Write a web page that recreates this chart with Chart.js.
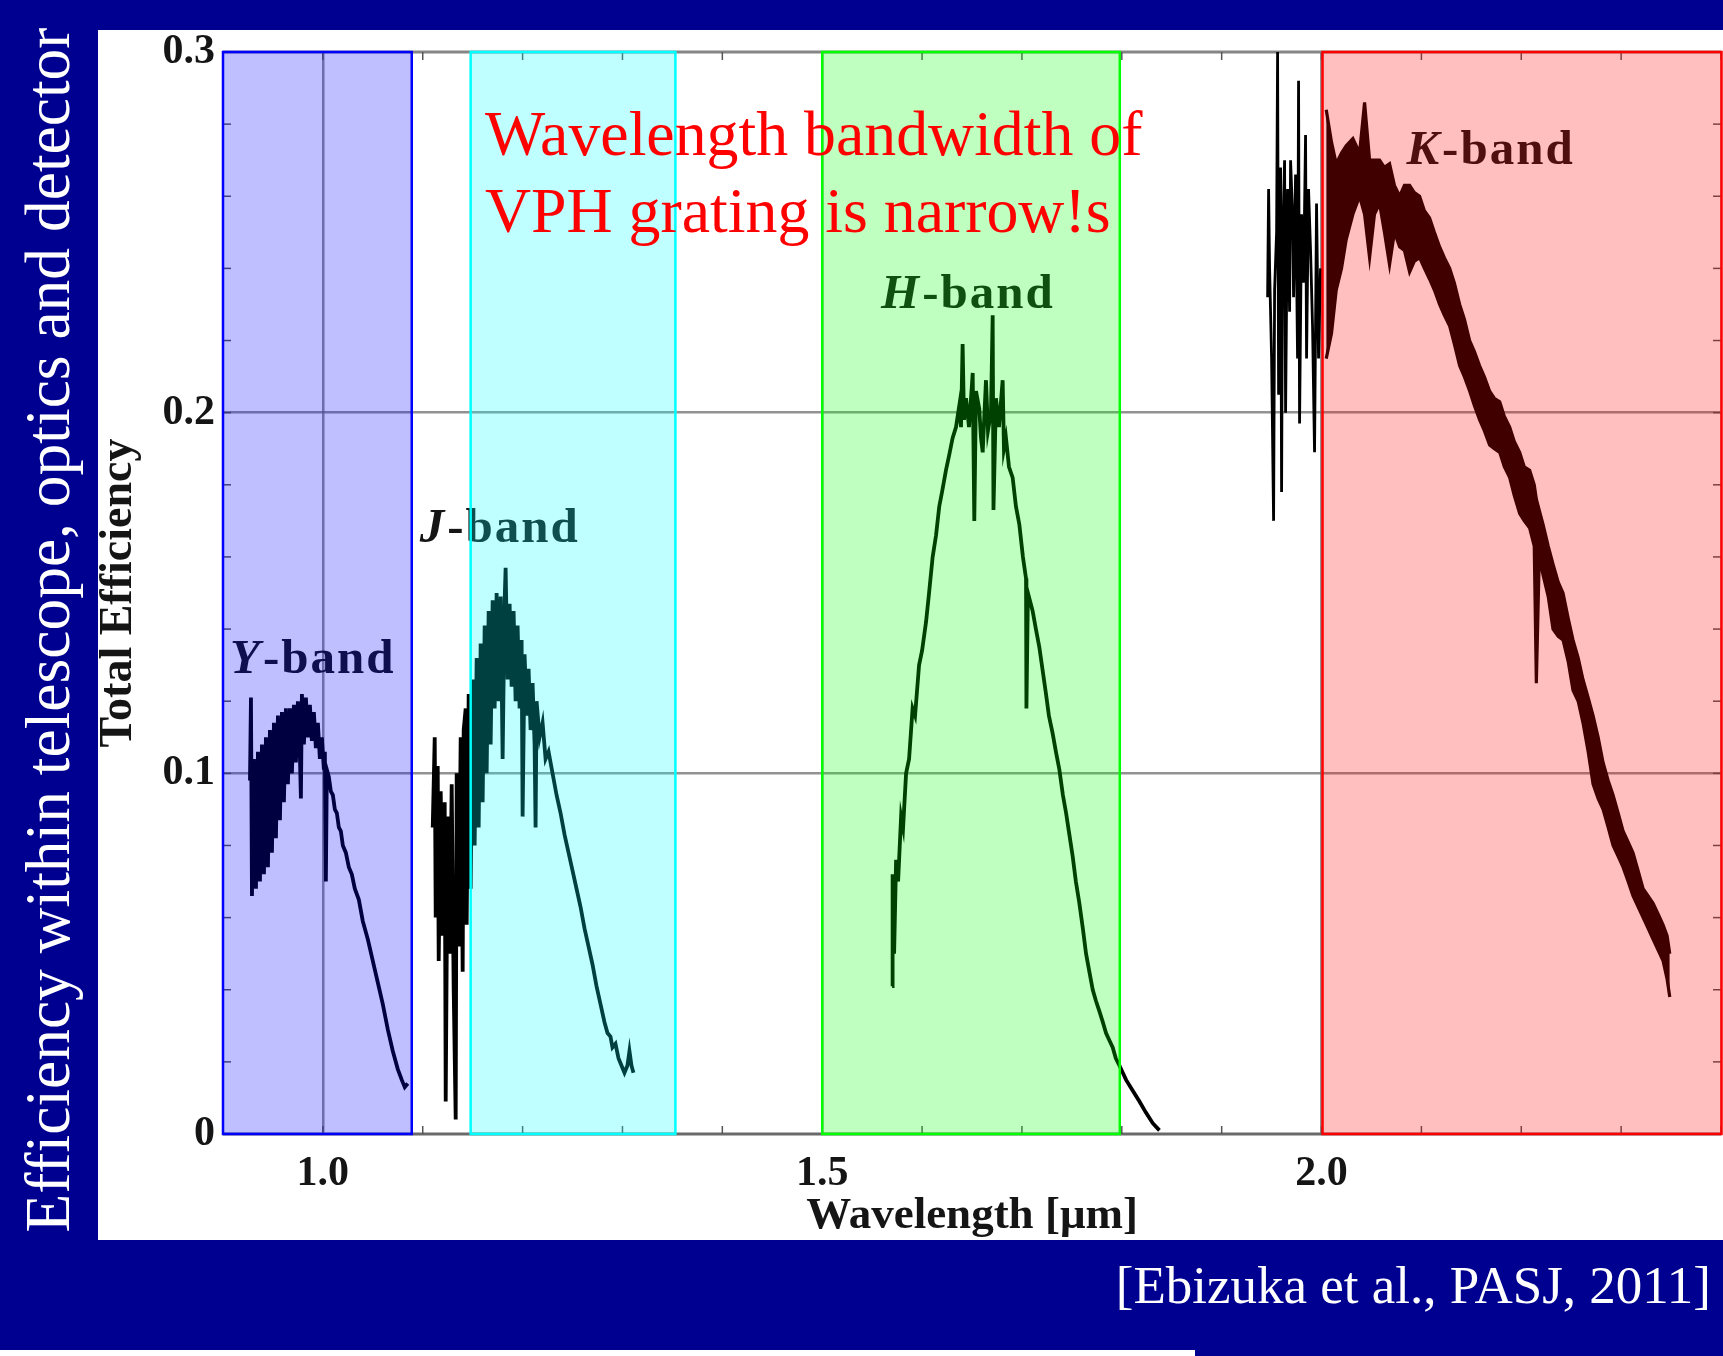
<!DOCTYPE html>
<html>
<head>
<meta charset="utf-8">
<script src="https://cdn.jsdelivr.net/npm/chart.js@4.4.1/dist/chart.umd.min.js"></script>
<style>
html,body{margin:0;padding:0;}
body{width:1723px;height:1356px;background:#000090;position:relative;overflow:hidden;font-family:'Liberation Serif','Times New Roman',serif;}
#panel{position:absolute;left:98px;top:30px;width:1625px;height:1210px;background:#fff;}
#chart{position:absolute;left:98px;top:30px;width:1625px;height:1210px;}
#slideY{position:absolute;left:48px;top:630px;transform:translate(-50%,-50%) rotate(-90deg);color:#fff;font-size:63.5px;line-height:1;white-space:nowrap;}
#note{position:absolute;left:485px;top:95px;color:#ff0000;font-size:63.8px;line-height:77px;white-space:nowrap;z-index:5;}
#cite{position:absolute;right:12px;top:1259px;color:#fff;font-size:53px;line-height:53px;white-space:nowrap;}
#strip{position:absolute;left:0;top:1350px;width:1195px;height:6px;background:#fff;}
</style>
</head>
<body>
<div id="panel"></div>
<canvas id="chart" width="1625" height="1210"></canvas>
<div id="slideY">Efficiency within telescope, optics and detector</div>
<div id="note">Wavelength bandwidth of<br>VPH grating is narrow!s</div>
<div id="cite">[Ebizuka et al., PASJ, 2011]</div>
<div id="strip"></div>
<script>
// ---------- DATA ----------
const xTickValues = [1.0, 1.5, 2.0];
const xTickLabels = ['1.0', '1.5', '2.0'];
const yTickValues = [0, 0.1, 0.2, 0.3];
const yTickLabels = ['0', '0.1', '0.2', '0.3'];

const bandNames = ['Y', 'J', 'H', 'K'];
const bandStart = [0.900, 1.148, 1.500, 2.001];
const bandEnd   = [1.089, 1.353, 1.798, 2.401];

// Y-band spectrum (wavelength um, total efficiency)
const yBandX = [
 0.927,0.928,0.929,0.931,0.933,0.935,0.937,0.939,0.941,0.943,
 0.945,0.947,0.949,0.951,0.953,0.955,0.957,0.959,0.961,0.963,
 0.965,0.967,0.969,0.971,0.973,0.975,0.977,0.978,0.979,0.981,
 0.983,0.985,0.987,0.989,0.991,0.993,0.995,0.997,0.999,1.001,
 1.002,1.003,1.004,1.006,1.008,1.010,1.012,1.014,1.016,1.018,
 1.020,1.023,1.026,1.029,1.032,1.036,1.040,1.045,1.050,1.055,
 1.060,1.065,1.070,1.075,1.079,1.082,1.085];
const yBandY = [
 0.098,0.121,0.066,0.104,0.068,0.106,0.070,0.108,0.072,0.110,
 0.074,0.112,0.078,0.114,0.082,0.116,0.087,0.117,0.092,0.118,
 0.097,0.118,0.100,0.119,0.103,0.120,0.105,0.093,0.122,0.108,
 0.121,0.110,0.119,0.109,0.117,0.107,0.114,0.104,0.110,0.101,
 0.106,0.070,0.101,0.099,0.095,0.094,0.090,0.089,0.085,0.084,
 0.080,0.078,0.074,0.072,0.068,0.065,0.059,0.054,0.048,0.042,
 0.036,0.029,0.023,0.018,0.015,0.013,0.014];

// J-band spectrum
const jBandX = [
 1.110,1.112,1.113,1.115,1.116,1.118,1.120,1.122,1.123,1.125,
 1.127,1.129,1.131,1.133,1.134,1.136,1.138,1.140,1.141,1.143,
 1.144,1.146,1.148,1.150,1.152,1.154,1.156,1.158,1.160,1.162,
 1.164,1.166,1.168,1.170,1.172,1.174,1.176,1.178,1.180,1.182,
 1.183,1.185,1.187,1.189,1.191,1.193,1.195,1.197,1.199,1.200,
 1.202,1.204,1.206,1.208,1.210,1.212,1.213,1.214,1.217,1.220,
 1.223,1.226,1.230,1.234,1.238,1.242,1.246,1.250,1.254,1.258,
 1.262,1.266,1.270,1.274,1.278,1.282,1.285,1.288,1.290,1.293,
 1.296,1.299,1.302,1.305,1.307,1.309,1.311];
const jBandY = [
 0.085,0.110,0.060,0.102,0.048,0.095,0.055,0.092,0.009,0.088,
 0.050,0.097,0.040,0.004,0.100,0.052,0.110,0.045,0.112,0.118,
 0.058,0.122,0.068,0.126,0.080,0.132,0.085,0.136,0.092,0.141,
 0.100,0.145,0.108,0.148,0.118,0.150,0.120,0.149,0.104,0.148,
 0.157,0.126,0.147,0.124,0.145,0.120,0.141,0.118,0.137,0.088,
 0.133,0.116,0.129,0.112,0.125,0.108,0.085,0.120,0.110,0.114,
 0.104,0.106,0.100,0.094,0.089,0.083,0.078,0.073,0.068,0.063,
 0.057,0.052,0.047,0.041,0.036,0.031,0.028,0.027,0.024,0.025,
 0.021,0.019,0.017,0.019,0.023,0.019,0.017];

// H-band spectrum
const hBandX = [
 1.5700,1.5705,1.5720,1.5740,1.5760,1.5790,1.5810,1.5840,1.5870,1.5905,
 1.5930,1.5970,1.6000,1.6040,1.6070,1.6106,1.6140,1.6172,1.6200,1.6239,
 1.6270,1.6306,1.6340,1.6373,1.6390,1.6406,1.6420,1.6440,1.6470,1.6500,
 1.6507,1.6523,1.6540,1.6573,1.6590,1.6607,1.6625,1.6640,1.6660,1.6690,
 1.6707,1.6715,1.6740,1.6770,1.6807,1.6820,1.6840,1.6870,1.6907,1.6940,
 1.6974,1.7010,1.7041,1.7045,1.7060,1.7107,1.7140,1.7174,1.7210,1.7241,
 1.7270,1.7308,1.7340,1.7375,1.7410,1.7442,1.7475,1.7508,1.7540,1.7575,
 1.7610,1.7642,1.7675,1.7709,1.7740,1.7776,1.7810,1.7842,1.7875,1.7909,
 1.7940,1.7976,1.8010,1.8043,1.8110,1.8177,1.8240,1.8310,1.8377];
const hBandY = [
 0.041,0.072,0.050,0.076,0.070,0.088,0.085,0.100,0.104,0.118,
 0.116,0.130,0.134,0.142,0.150,0.160,0.166,0.174,0.178,0.184,
 0.188,0.193,0.196,0.202,0.196,0.219,0.198,0.204,0.196,0.208,
 0.211,0.170,0.206,0.201,0.193,0.189,0.200,0.209,0.195,0.200,
 0.227,0.173,0.204,0.196,0.209,0.190,0.193,0.185,0.182,0.174,
 0.169,0.160,0.154,0.118,0.150,0.145,0.140,0.135,0.128,0.122,
 0.116,0.111,0.106,0.101,0.094,0.089,0.083,0.077,0.070,0.064,
 0.057,0.050,0.045,0.040,0.037,0.034,0.031,0.028,0.026,0.024,
 0.021,0.019,0.017,0.015,0.012,0.009,0.006,0.003,0.001];

// noisy segment just short of K-band
const kEdgeX = [
 1.946,1.947,1.948,1.950,1.952,1.953,1.955,1.956,1.957,1.959,
 1.960,1.961,1.963,1.964,1.966,1.968,1.969,1.971,1.972,1.974,
 1.976,1.977,1.978,1.980,1.982,1.984,1.985,1.987,1.989,1.991,
 1.993,1.995,1.997,1.999];
const kEdgeY = [
 0.232,0.262,0.240,0.215,0.170,0.234,0.250,0.300,0.205,0.268,
 0.178,0.246,0.270,0.200,0.262,0.228,0.270,0.255,0.232,0.266,
 0.215,0.292,0.197,0.255,0.236,0.277,0.215,0.262,0.245,0.224,
 0.189,0.258,0.215,0.240];

// K-band spectrum: upper and lower envelope of the noisy trace
const kBandX = [
 2.0047,2.0100,2.0147,2.0200,2.0247,2.0314,2.0381,2.0431,2.0481,2.0530,
 2.0581,2.0630,2.0681,2.0730,2.0782,2.0830,2.0882,2.0930,2.0982,2.1030,
 2.1082,2.1130,2.1182,2.1230,2.1283,2.1330,2.1383,2.1430,2.1483,2.1530,
 2.1583,2.1630,2.1683,2.1730,2.1784,2.1830,2.1884,2.1930,2.1984,2.2030,
 2.2084,2.2130,2.2151,2.2180,2.2218,2.2270,2.2318,2.2370,2.2418,2.2470,
 2.2518,2.2570,2.2618,2.2670,2.2719,2.2770,2.2819,2.2870,2.2919,2.2970,
 2.3019,2.3070,2.3119,2.3170,2.3220,2.3270,2.3320,2.3370,2.3420,2.3460,
 2.3487];
const kBandUpper = [
 0.284,0.275,0.269,0.272,0.274,0.276,0.272,0.286,0.270,0.270,
 0.270,0.268,0.269,0.263,0.260,0.263,0.263,0.261,0.260,0.256,
 0.254,0.250,0.246,0.243,0.240,0.236,0.230,0.226,0.220,0.217,
 0.213,0.210,0.206,0.204,0.203,0.199,0.196,0.192,0.189,0.185,
 0.184,0.180,0.176,0.173,0.169,0.163,0.158,0.153,0.150,0.143,
 0.137,0.132,0.126,0.121,0.116,0.110,0.103,0.098,0.094,0.089,
 0.084,0.081,0.078,0.073,0.068,0.066,0.064,0.061,0.058,0.055,
 0.050];
const kBandLower = [
 0.215,0.222,0.234,0.240,0.248,0.255,0.260,0.255,0.243,0.255,
 0.258,0.250,0.241,0.250,0.246,0.245,0.239,0.242,0.243,0.240,
 0.237,0.234,0.230,0.227,0.224,0.219,0.213,0.210,0.206,0.202,
 0.198,0.195,0.191,0.190,0.189,0.185,0.182,0.177,0.172,0.170,
 0.168,0.163,0.125,0.160,0.155,0.149,0.140,0.138,0.137,0.131,
 0.123,0.120,0.114,0.106,0.097,0.093,0.090,0.085,0.080,0.077,
 0.074,0.070,0.066,0.063,0.060,0.057,0.054,0.051,0.048,0.043,
 0.038];

// ---------- STYLE / ANNOTATION SETTINGS ----------
const FONT = "'Liberation Serif','Times New Roman',serif";
const bandFill   = ['rgba(0,0,255,0.25)','rgba(0,255,255,0.25)','rgba(0,255,0,0.25)','rgba(255,0,0,0.25)'];
const bandStroke = ['#0000ff','#00ffff','#00ff00','#ff0000'];
const bandLabelAt = { Y:[0.907,0.1278], J:[1.097,0.1641], H:[1.559,0.2290], K:[2.085,0.2690] };

const pts = (xs, ys) => xs.map((x, i) => ({x, y: ys[i]}));
const near = (v, list) => list.findIndex(t => Math.abs(t - v) < 1e-6);

const slidePlugin = {
  id: 'slidePlugin',
  beforeDatasetsDraw(chart) {
    const {ctx, chartArea: a, scales: {x, y}} = chart;
    ctx.save();
    const ln = (x1, y1, x2, y2) => { ctx.beginPath(); ctx.moveTo(x1, y1); ctx.lineTo(x2, y2); ctx.stroke(); };
    // frame
    ctx.strokeStyle = '#c8c8c8'; ctx.lineWidth = 2;
    ln(a.left, a.top, a.left, a.bottom);
    ln(a.right, a.top, a.right, a.bottom);
    ctx.strokeStyle = '#858585'; ctx.lineWidth = 3;
    ln(a.left, a.top, a.right, a.top);
    ctx.strokeStyle = '#6a6a6a';
    ln(a.left, a.bottom, a.right, a.bottom);
    // inward minor ticks
    ctx.strokeStyle = '#555'; ctx.lineWidth = 1.5;
    x.ticks.forEach(t => {
      const px = x.getPixelForValue(t.value);
      ln(px, a.bottom, px, a.bottom - 8); ln(px, a.top, px, a.top + 8);
    });
    y.ticks.forEach(t => {
      const py = y.getPixelForValue(t.value);
      ln(a.left, py, a.left + 8, py); ln(a.right, py, a.right - 8, py);
    });
    // band labels (under the translucent band overlays)
    ctx.fillStyle = '#151515';
    ctx.textBaseline = 'alphabetic';
    if ('letterSpacing' in ctx) ctx.letterSpacing = '2px';
    bandNames.forEach(n => {
      const [lx, ly] = bandLabelAt[n];
      const px = x.getPixelForValue(lx), py = y.getPixelForValue(ly);
      ctx.font = `italic bold 49px ${FONT}`;
      ctx.fillText(n, px, py);
      const w = ctx.measureText(n).width;
      ctx.font = `bold 49px ${FONT}`;
      ctx.fillText('-band', px + w + 1, py);
    });
    ctx.restore();
  },
  afterDatasetsDraw(chart) {
    const {ctx, scales: {x, y}} = chart;
    ctx.save();
    bandNames.forEach((n, i) => {
      const x1 = x.getPixelForValue(bandStart[i]);
      const x2 = Math.min(x.getPixelForValue(bandEnd[i]), chart.width - 1.5);
      const y1 = y.getPixelForValue(0.3), y2 = y.getPixelForValue(0);
      ctx.fillStyle = bandFill[i];
      ctx.fillRect(x1, y1, x2 - x1, y2 - y1);
      ctx.strokeStyle = bandStroke[i]; ctx.lineWidth = 2.5;
      ctx.strokeRect(x1, y1, x2 - x1, y2 - y1);
    });
    ctx.restore();
  }
};

const lineDs = (data, w) => ({data, borderColor: '#000', borderWidth: w, pointRadius: 0, fill: false, tension: 0});

new Chart(document.getElementById('chart'), {
  type: 'line',
  data: {
    datasets: [
      lineDs(pts(yBandX, yBandY), 3.8),
      lineDs(pts(jBandX, jBandY), 3.8),
      lineDs(pts(hBandX, hBandY), 3.8),
      lineDs(pts(kEdgeX, kEdgeY), 2.8),
      lineDs(pts(kBandX, kBandUpper), 3.2),
      Object.assign(lineDs(pts(kBandX, kBandLower), 3.2), {fill: '-1', backgroundColor: '#000'})
    ]
  },
  options: {
    responsive: false,
    animation: false,
    devicePixelRatio: 1,
    layout: {padding: {left: 0, top: 22, right: 2, bottom: 0}},
    plugins: {legend: {display: false}, tooltip: {enabled: false}},
    scales: {
      x: {
        type: 'linear', min: 0.9, max: 2.4,
        afterFit: s => { s.height = 106; },
        border: {display: false},
        grid: {
          drawTicks: true, tickLength: 19, tickColor: 'rgba(0,0,0,0)', lineWidth: 2.5,
          color: c => (c.tick && near(c.tick.value, xTickValues) >= 0) ? 'rgba(110,110,110,0.75)' : 'rgba(0,0,0,0)'
        },
        ticks: {
          stepSize: 0.1, autoSkip: false, maxRotation: 0, padding: 0, color: '#151515',
          font: {family: FONT, size: 42, weight: 'bold', lineHeight: 1},
          callback: v => { const k = near(v, xTickValues); return k >= 0 ? xTickLabels[k] : ''; }
        },
        title: {
          display: true, text: 'Wavelength [μm]', color: '#151515',
          font: {family: FONT, size: 45, weight: 'bold', lineHeight: 1},
          padding: {top: 0, bottom: 1}
        }
      },
      y: {
        min: 0, max: 0.3,
        afterFit: s => { s.width = 125; },
        border: {display: false},
        grid: {
          drawTicks: true, tickLength: 8, tickColor: 'rgba(0,0,0,0)', lineWidth: 2.5,
          color: c => (c.tick && (Math.abs(c.tick.value - 0.1) < 1e-6 || Math.abs(c.tick.value - 0.2) < 1e-6)) ? 'rgba(110,110,110,0.75)' : 'rgba(0,0,0,0)'
        },
        ticks: {
          stepSize: 0.02, autoSkip: false, padding: 0, color: '#151515',
          font: {family: FONT, size: 42, weight: 'bold', lineHeight: 1},
          callback: v => { const k = near(v, yTickValues); return k >= 0 ? yTickLabels[k] : ''; }
        },
        title: {
          display: true, text: 'Total Efficiency', color: '#151515',
          font: {family: FONT, size: 46, weight: 'bold', lineHeight: 1},
          padding: {top: -2, bottom: 0}
        }
      }
    }
  },
  plugins: [slidePlugin]
});
</script>
</body>
</html>
